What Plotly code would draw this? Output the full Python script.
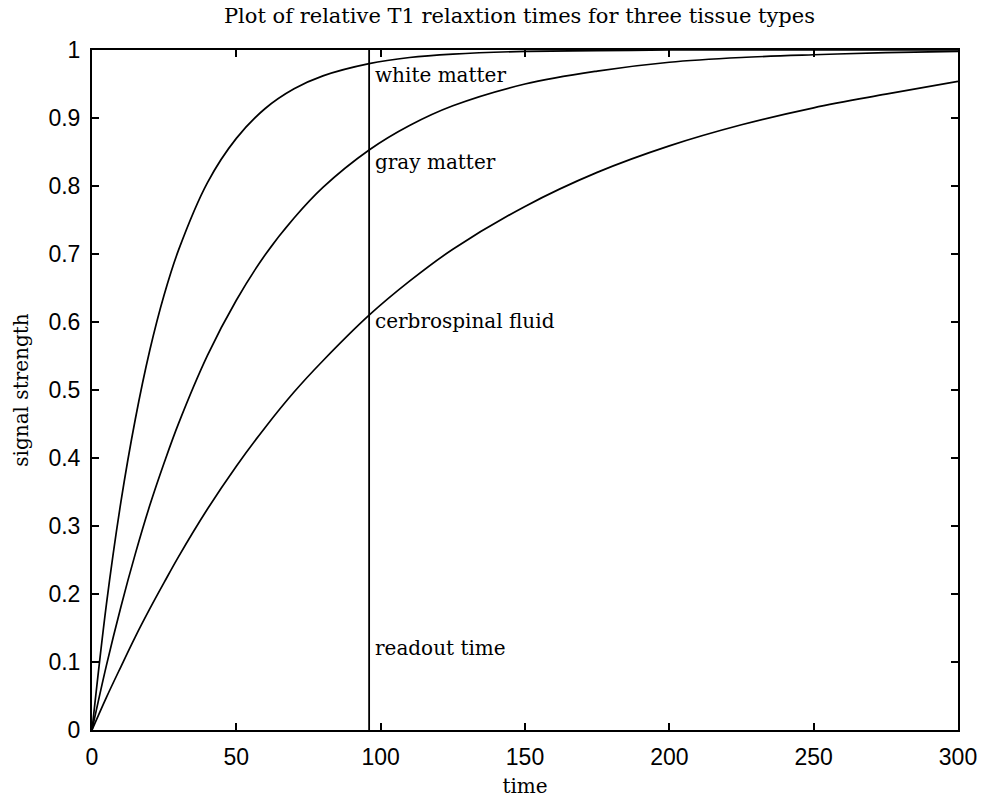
import plotly.graph_objects as go

time_pts = [0, 5, 10, 15, 20, 25, 30, 40, 50, 60, 70, 80, 96, 110, 125, 150, 175, 200, 225, 250, 275, 300]
white_matter = [0, 0.185, 0.335, 0.457, 0.558, 0.64, 0.706, 0.805, 0.870, 0.914, 0.943, 0.962, 0.980, 0.989, 0.994, 0.998, 0.999, 1.0, 1.0, 1.0, 1.0, 1.0]
gray_matter = [0, 0.095, 0.181, 0.259, 0.33, 0.393, 0.451, 0.551, 0.632, 0.699, 0.753, 0.798, 0.853, 0.889, 0.918, 0.950, 0.969, 0.982, 0.989, 0.993, 0.996, 0.998]
csf = [0, 0.048, 0.093, 0.137, 0.178, 0.217, 0.255, 0.325, 0.388, 0.445, 0.497, 0.543, 0.61, 0.66, 0.707, 0.77, 0.82, 0.859, 0.89, 0.915, 0.935, 0.954]

readout_time = 96
labels = ["white matter", "gray matter", "cerbrospinal fluid", "readout time"]
label_y = [0.963, 0.835, 0.602, 0.12]
label_x = 97.5

serif = "DejaVu Serif, Liberation Serif, serif"
tickfont = dict(family="Liberation Sans Narrow, Liberation Sans, sans-serif", size=23, color="black")

fig = go.Figure()
for ys in (white_matter, gray_matter, csf):
    fig.add_trace(go.Scatter(x=time_pts, y=ys, mode="lines",
                             line=dict(color="black", width=1.7, shape="spline", smoothing=1.0),
                             showlegend=False, hoverinfo="skip"))
fig.add_trace(go.Scatter(x=[readout_time, readout_time], y=[0, 1], mode="lines",
                         line=dict(color="black", width=1.8), showlegend=False, hoverinfo="skip"))

for txt, yv in zip(labels, label_y):
    fig.add_annotation(x=label_x, y=yv, text=txt, showarrow=False, xanchor="left", yanchor="middle",
                       font=dict(family=serif, size=20, color="black"))

fig.update_layout(
    width=982, height=802,
    margin=dict(l=92, r=24, t=50, b=72),
    paper_bgcolor="white", plot_bgcolor="white",
    title=dict(text="Plot of relative T1 relaxtion times for three tissue types",
               x=0.529, xanchor="center", y=0.981, yanchor="middle",
               font=dict(family=serif, size=21, color="black")),
)
fig.update_xaxes(range=[0, 300], tickvals=[0, 50, 100, 150, 200, 250, 300],
                 ticks="inside", ticklen=7, tickcolor="black", tickwidth=1.5, mirror="ticks",
                 showline=True, linecolor="black", linewidth=2, showgrid=False, zeroline=False,
                 tickfont=tickfont, ticklabelstandoff=5, automargin=False,
                 title=dict(text="time", font=dict(family=serif, size=20, color="black"), standoff=10))
fig.update_yaxes(range=[0, 1], tickvals=[0, 0.1, 0.2, 0.3, 0.4, 0.5, 0.6, 0.7, 0.8, 0.9, 1],
                 ticktext=["0", "0.1", "0.2", "0.3", "0.4", "0.5", "0.6", "0.7", "0.8", "0.9", "1"],
                 ticks="inside", ticklen=7, tickcolor="black", tickwidth=1.5, mirror="ticks",
                 showline=True, linecolor="black", linewidth=2, showgrid=False, zeroline=False,
                 tickfont=tickfont, ticklabelstandoff=5, automargin=False,
                 title=dict(text="signal strength", font=dict(family=serif, size=20, color="black"), standoff=14))

fig.write_html("out.html")
